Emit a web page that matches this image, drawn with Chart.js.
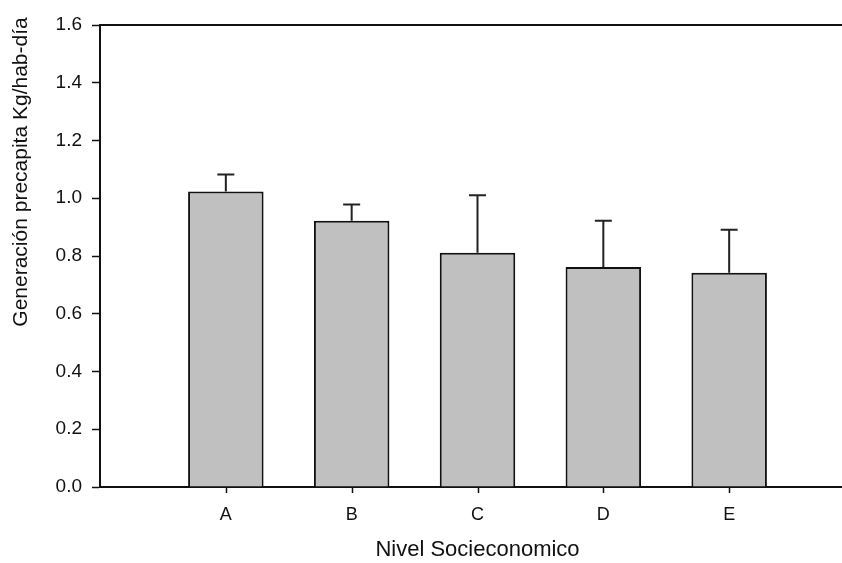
<!DOCTYPE html>
<html lang="es">
<head>
    <meta charset="UTF-8">
    <title>Generación precapita</title>
    <script src="https://cdn.jsdelivr.net/npm/chart.js@4.4.1/dist/chart.umd.min.js"></script>
    <style>
        body { margin: 0; overflow: hidden; background: white; }
        #wrap { width: 864px; height: 563px; }
    </style>
</head>
<body>
    <div id="wrap"><canvas id="myChart" width="864" height="563"></canvas></div>
    <script>
        // blank slots at both ends so A..E sit where the original axis put them
        const categories = ["", "A", "B", "C", "D", "E", ""];
        const means = [null, 1.023, 0.922, 0.811, 0.762, 0.742, null];
        const errors = [null, 0.059, 0.056, 0.199, 0.160, 0.149, null];
        const yTicks = [0, 0.2, 0.4, 0.6, 0.8, 1.0, 1.2, 1.4, 1.6];
        const yTitle = "Generación precapita Kg/hab-día";

        const fontFam = "'Liberation Sans', Arial, sans-serif";

        // upper error bars only, with a small cap
        const errorBars = {
            id: "errorBars",
            afterDatasetsDraw(chart) {
                const ctx = chart.ctx;
                const meta = chart.getDatasetMeta(0);
                const y = chart.scales.y;
                ctx.save();
                ctx.strokeStyle = "#222";
                ctx.lineWidth = 2;
                meta.data.forEach((bar, i) => {
                    if (means[i] == null) return;
                    const top = y.getPixelForValue(means[i] + errors[i]);
                    const base = y.getPixelForValue(means[i]);
                    ctx.beginPath();
                    ctx.moveTo(bar.x, base);
                    ctx.lineTo(bar.x, top);
                    ctx.moveTo(bar.x - 8.5, top);
                    ctx.lineTo(bar.x + 8.5, top);
                    ctx.stroke();
                });
                ctx.restore();
            }
        };

        // y title sits high, not centred on the axis, so draw it by hand;
        // the category tick marks did not show up from grid options, so draw them here too
        const axisExtras = {
            id: "axisExtras",
            afterDraw(chart) {
                const ctx = chart.ctx;
                const x = chart.scales.x;
                ctx.save();
                ctx.strokeStyle = "#111";
                ctx.lineWidth = 1.5;
                categories.forEach((c, i) => {
                    if (!c) return;
                    const px = Math.round(x.getPixelForTick(i)) + 0.5;
                    ctx.beginPath();
                    ctx.moveTo(px, x.top);
                    ctx.lineTo(px, x.top + 6);
                    ctx.stroke();
                });
                ctx.translate(21, 172);
                ctx.rotate(-Math.PI / 2);
                ctx.fillStyle = "#111";
                ctx.font = "21px " + fontFam;
                ctx.textAlign = "center";
                ctx.textBaseline = "middle";
                ctx.fillText(yTitle, 0, 0);
                ctx.restore();
            }
        };

        new Chart("myChart", {
            type: "bar",
            data: {
                labels: categories,
                datasets: [{
                    data: means,
                    backgroundColor: "#c0c0c0",
                    borderColor: "#111",
                    borderWidth: 2,
                    categoryPercentage: 0.6,
                    barPercentage: 1.0
                }]
            },
            plugins: [errorBars, axisExtras],
            options: {
                responsive: false,
                animation: false,
                layout: { padding: { top: 25, right: 0, left: 0, bottom: 0 } },
                plugins: { legend: { display: false }, tooltip: { enabled: false } },
                scales: {
                    x: {
                        offset: false,
                        afterFit(scale) { scale.height = 76; },
                        border: { display: true, color: "#111", width: 2 },
                        grid: { display: false, offset: false },
                        ticks: {
                            color: "#111",
                            padding: 9,
                            autoSkip: false,
                            maxRotation: 0,
                            font: { family: fontFam, size: 18 }
                        },
                        title: {
                            display: true,
                            text: "Nivel Socieconomico",
                            color: "#111",
                            padding: { top: 0, bottom: 0 },
                            font: { family: fontFam, size: 22 }
                        }
                    },
                    xTop: {
                        position: "top",
                        afterFit(scale) { scale.height = 0; },
                        border: { display: true, color: "#111", width: 2 },
                        grid: { display: false },
                        ticks: { display: false }
                    },
                    y: {
                        min: 0,
                        max: 1.6,
                        afterFit(scale) { scale.width = 100; },
                        afterBuildTicks(scale) { scale.ticks = yTicks.map(v => ({ value: v })); },
                        border: { display: true, color: "#111", width: 2 },
                        grid: {
                            drawOnChartArea: false,
                            drawTicks: true,
                            tickLength: 8,
                            tickWidth: 1.5,
                            tickColor: "#111"
                        },
                        ticks: {
                            color: "#111",
                            padding: 10,
                            font: { family: fontFam, size: 19 },
                            callback: v => v.toFixed(1)
                        }
                    }
                }
            }
        });
    </script>
</body>
</html>
